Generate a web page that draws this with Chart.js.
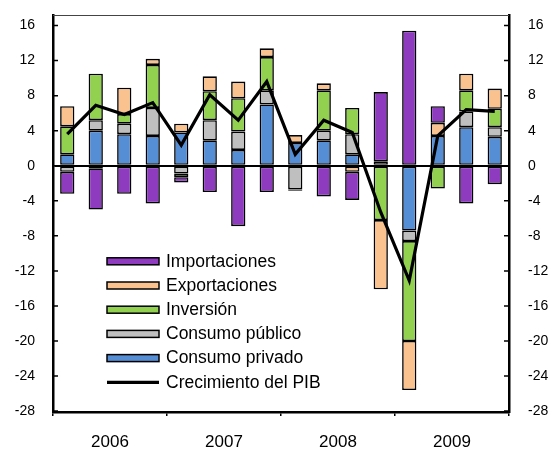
<!DOCTYPE html>
<html>
<head>
<meta charset="utf-8">
<script src="https://cdn.jsdelivr.net/npm/chart.js@4.4.0/dist/chart.umd.min.js"></script>
<style>
  html, body { margin: 0; padding: 0; background: #fff; }
  #wrap { width: 552px; height: 449px; }
</style>
</head>
<body>
<div id="wrap"><canvas id="pib-chart" width="552" height="449"></canvas></div>
<script>
// ---- data (contribuciones al crecimiento del PIB, trimestral)
const quarters = [
	'2006-I', '2006-II', '2006-III', '2006-IV',
	'2007-I', '2007-II', '2007-III', '2007-IV',
	'2008-I', '2008-II', '2008-III', '2008-IV',
	'2009-I', '2009-II', '2009-III', '2009-IV'
];
const years = [ '2006', '2007', '2008', '2009' ];
const yTicks = [ -28, -24, -20, -16, -12, -8, -4, 0, 4, 8, 12, 16 ];

const consumoPrivado = [ 1.3, 4.0, 3.6, 3.4, 3.8, 2.9, 1.8, 7.0, 2.6, 2.9, 1.3, null, -7.4, 3.4, 4.4, 3.3 ];
const consumoPublico = [ -0.7, 1.2, 1.2, 3.2, -0.9, 2.3, 2.1, 1.6, -2.7, 1.1, 2.3, 0.5, -1.2, null, 1.8, 1.1 ];
const inversion = [ 3.2, 5.3, 1.1, 4.9, -0.4, 3.3, 3.8, 3.8, null, 4.6, 3.0, -6.2, -11.4, -2.6, 2.4, 2.1 ];
const exportaciones = [ 2.3, -0.3, 3.0, 0.7, 1.0, 1.7, 1.9, 1.0, 0.9, 0.8, -0.7, -7.9, -5.6, 1.5, 1.9, 2.3 ];
const importaciones = [ -2.5, -4.7, -3.2, -4.3, -0.6, -3.0, -6.9, -3.0, -0.15, -3.5, -3.2, 7.9, 15.4, 1.9, -4.3, -2.1 ];
const crecimientoPIB = [ 3.6, 6.9, 5.85, 7.2, 2.35, 8.1, 5.2, 9.6, 1.3, 5.2, 3.8, -5.3, -13.1, 3.4, 6.4, 6.2 ];

const FONT = "'Liberation Sans', Arial, sans-serif";
const Y_MIN = -28.1;
const Y_MAX = 17.2;

function barSet( label, data, color ) {
	return {
		type: 'bar',
		label,
		data,
		backgroundColor: color,
		borderColor: '#000',
		borderWidth: 1.6,
		borderSkipped: false,
		stack: 'pib',
		order: 1
	};
}

// fixed axis sizes so the plot sits where the original one does
function fixVertical( width ) {
	return ( s ) => {
		s.width = width;
		s.paddingTop = 0;
		s.paddingBottom = 0;
	};
}

// inward ticks, top frame line and the legend inside the plot
const framePlugin = {
	id: 'frame',
	afterDraw( chart ) {
		const ctx = chart.ctx;
		const area = chart.chartArea;
		const yScale = chart.scales.y;
		ctx.save();
		ctx.strokeStyle = '#000';
		ctx.lineWidth = 1.5;
		yTicks.forEach( ( v ) => {
			const py = yScale.getPixelForValue( v );
			ctx.beginPath();
			ctx.moveTo( area.left, py );
			ctx.lineTo( area.left + 5, py );
			ctx.moveTo( area.right - 5, py );
			ctx.lineTo( area.right, py );
			ctx.stroke();
		} );

		ctx.strokeStyle = '#444';
		ctx.lineWidth = 1.2;
		ctx.beginPath();
		ctx.moveTo( area.left, area.top + 0.5 );
		ctx.lineTo( area.right, area.top + 0.5 );
		ctx.stroke();

		// legend: bars reversed, then the line
		const sets = chart.data.datasets;
		const bars = sets.filter( ( d ) => d.type === 'bar' ).reverse();
		const line = sets.find( ( d ) => d.type === 'line' );
		const items = bars.concat( [ line ] );
		const boxX = 107, boxW = 52, boxH = 7, textX = 166;
		ctx.font = '17.5px ' + FONT;
		ctx.textBaseline = 'middle';
		ctx.textAlign = 'left';
		items.forEach( ( d, i ) => {
			const cy = 261.3 + i * 24.2;
			if ( d.type === 'bar' ) {
				ctx.fillStyle = d.backgroundColor;
				ctx.fillRect( boxX, cy - boxH / 2, boxW, boxH );
				ctx.strokeStyle = '#000';
				ctx.lineWidth = 1.5;
				ctx.strokeRect( boxX, cy - boxH / 2, boxW, boxH );
			} else {
				ctx.strokeStyle = '#000';
				ctx.lineWidth = 3.2;
				ctx.beginPath();
				ctx.moveTo( boxX, cy );
				ctx.lineTo( boxX + boxW, cy );
				ctx.stroke();
			}
			ctx.fillStyle = '#000';
			ctx.fillText( d.label, textX, cy + 0.5 );
		} );
		ctx.restore();
	}
};

new Chart( document.getElementById( 'pib-chart' ), {
	data: {
		labels: quarters,
		datasets: [
			{
				type: 'line',
				label: 'Crecimiento del PIB',
				data: crecimientoPIB,
				borderColor: '#000',
				borderWidth: 3.2,
				pointRadius: 0,
				tension: 0,
				fill: false,
				stack: 'linea',
				order: 0
			},
			barSet( 'Consumo privado', consumoPrivado, '#558ed5' ),
			barSet( 'Consumo público', consumoPublico, '#bfbfbf' ),
			barSet( 'Inversión', inversion, '#92d050' ),
			barSet( 'Exportaciones', exportaciones, '#fac28e' ),
			barSet( 'Importaciones', importaciones, '#8e3bc0' )
		]
	},
	options: {
		responsive: false,
		animation: false,
		layout: { padding: { top: 15, left: 0, right: 0, bottom: 0 } },
		datasets: {
			bar: { barPercentage: 1, categoryPercentage: 0.5 }
		},
		plugins: {
			legend: { display: false },
			tooltip: { enabled: false }
		},
		scales: {
			x: {
				display: false,
				stacked: true,
				offset: true
			},
			x2: {
				type: 'category',
				labels: years,
				position: 'bottom',
				offset: true,
				grid: {
					drawOnChartArea: false,
					offset: true,
					color: '#000',
					lineWidth: 1.5,
					tickLength: 4
				},
				border: { color: '#000', width: 2.5 },
				ticks: {
					color: '#000',
					font: { family: FONT, size: 17 },
					padding: 16,
					maxRotation: 0
				},
				afterFit: ( s ) => {
					s.height = 37;
					s.paddingLeft = 0;
					s.paddingRight = 0;
				}
			},
			y: {
				position: 'left',
				stacked: true,
				min: Y_MIN,
				max: Y_MAX,
				afterBuildTicks: ( s ) => { s.ticks = yTicks.map( ( v ) => ( { value: v } ) ); },
				grid: {
					drawTicks: false,
					lineWidth: 2,
					color: ( c ) => ( c.tick && c.tick.value === 0 ? '#000' : 'rgba(0,0,0,0)' )
				},
				border: { color: '#000', width: 2.5 },
				ticks: {
					color: '#000',
					padding: 18,
					font: { family: FONT, size: 14 }
				},
				afterFit: fixVertical( 53 )
			},
			y2: {
				position: 'right',
				min: Y_MIN,
				max: Y_MAX,
				afterBuildTicks: ( s ) => { s.ticks = yTicks.map( ( v ) => ( { value: v } ) ); },
				grid: { display: false, drawTicks: false },
				border: { color: '#000', width: 2.5 },
				ticks: {
					color: '#000',
					padding: 19,
					font: { family: FONT, size: 14 }
				},
				afterFit: fixVertical( 43 )
			}
		}
	},
	plugins: [ framePlugin ]
} );
</script>
</body>
</html>
